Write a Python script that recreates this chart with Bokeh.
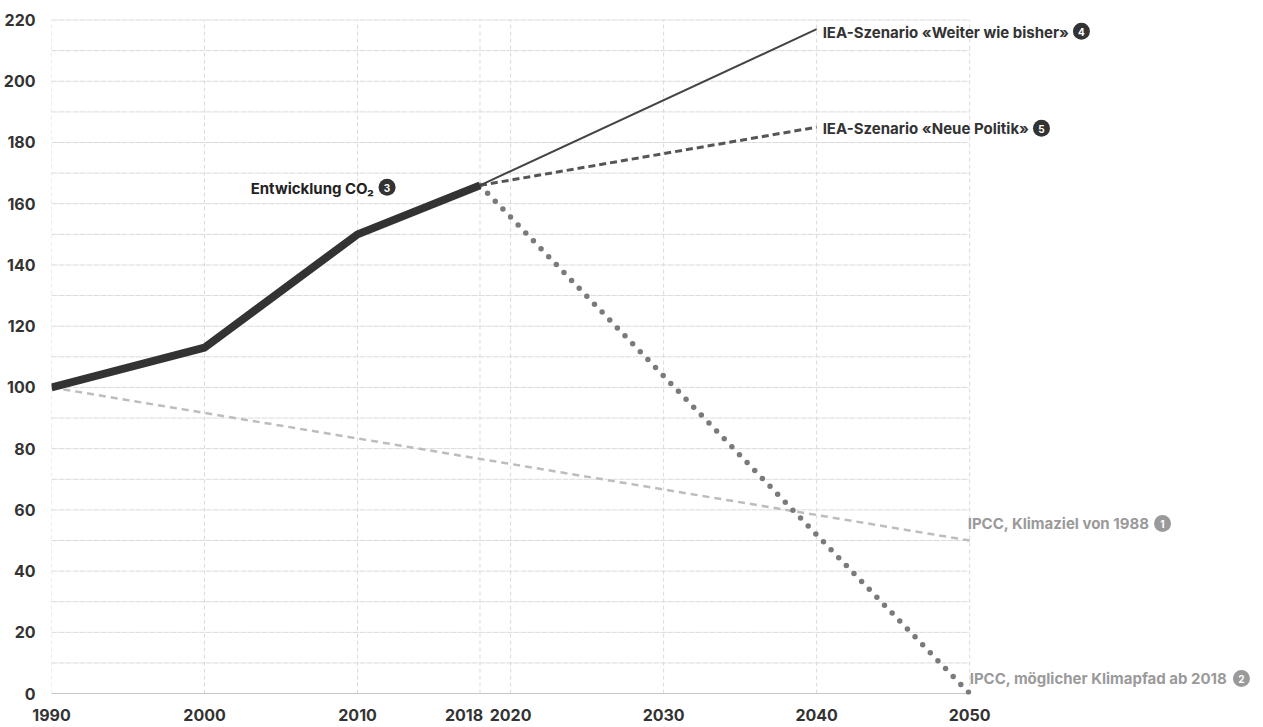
from bokeh.plotting import figure
from bokeh.models import Range1d, FixedTicker
from bokeh.core.properties import value
from bokeh.embed import file_html
from bokeh.resources import INLINE

# ---- data ----
hist_years = [1990, 2000, 2010, 2018]
hist_co2 = [100, 113, 150, 166]

bau_years = [2018, 2040]
bau_vals = [166, 217]

newpol_years = [2018, 2040]
newpol_vals = [166, 185]

ipcc88_years = [1990, 2050]
ipcc88_vals = [100, 50]

ipccpath_years = [2018, 2050]
ipccpath_vals = [166, 0]

x_ticks = [1990, 2000, 2010, 2018, 2020, 2030, 2040, 2050]
y_ticks = list(range(0, 221, 20))
y_grid = list(range(10, 221, 10))

# labels: text, anchor x, anchor y, marker number
dark_labels = ["IEA-Szenario «Weiter wie bisher»", "IEA-Szenario «Neue Politik»"]
dark_x = [2040, 2040]
dark_y = [217, 185]
dark_num = ["4", "5"]

co2_label = ["Entwicklung CO\u2082"]
co2_x = [2018]
co2_y = [166]
co2_num = ["3"]

grey_labels = ["IPCC, Klimaziel von 1988", "IPCC, möglicher Klimapfad ab 2018"]
grey_x = [2050, 2050]
grey_y = [50, 0]
grey_num = ["1", "2"]

FONT = "Inter"
DARK = "#333333"
GREY = "#9a9a9a"

W, H = 1263, 727
BL, BR, BT, BB = 50, 0, 18, 28
X0, X1 = 1990, 2069.2
Y0, Y1 = -0.3, 220.5

p = figure(width=W, height=H, output_backend="svg", toolbar_location=None,
           x_range=Range1d(X0, X1), y_range=Range1d(Y0, Y1),
           min_border_left=BL, min_border_right=BR, min_border_top=BT, min_border_bottom=BB)
p.outline_line_color = None
p.grid.visible = False
p.background_fill_color = "white"
p.border_fill_color = "white"

# approx. pixels per data unit (used only to place the numbered markers beside the texts)
XS = (W - BL - BR) / (X1 - X0)
YS = (H - BT - 32) / (Y1 - Y0)

# grid lines (drawn as segments so that they stop at 2050)
p.segment(x0=[x_ticks[0]] * len(y_grid), x1=[x_ticks[-1]] * len(y_grid), y0=y_grid, y1=y_grid,
          line_color="#dadada", line_width=1, line_dash="6 1")
p.segment(x0=x_ticks, x1=x_ticks, y0=[0] * len(x_ticks), y1=[y_ticks[-1]] * len(x_ticks),
          line_color="#dadada", line_width=1, line_dash="4 3")
p.segment(x0=[x_ticks[0]], x1=[x_ticks[-1]], y0=[0], y1=[0], line_color="#c4c4c4", line_width=1)

# series
p.line(ipcc88_years, ipcc88_vals, line_color="#bdbdbd", line_width=2.5, line_dash="7 5")
p.line(ipccpath_years, ipccpath_vals, line_color="#7a7a7a", line_width=5.5, line_dash="0 11",
       line_cap="round")
p.line(newpol_years, newpol_vals, line_color="#555555", line_width=3, line_dash="7 4")
p.line(bau_years, bau_vals, line_color="#444444", line_width=2)
p.line(hist_years, hist_co2, line_color=DARK, line_width=8, line_join="round")

common = dict(text_font=value(FONT), text_font_style="bold", text_font_size="15px",
              text_baseline="middle")

# labels
p.text(x=dark_x, y=dark_y, text=dark_labels, x_offset=6, y_offset=[3, 1],
       text_color=DARK, text_align="left", **common)
p.text(x=co2_x, y=co2_y, text=co2_label, x_offset=-106, y_offset=3,
       text_color="#222222", text_align="right", **common)
p.text(x=grey_x, y=grey_y, text=grey_labels, x_offset=[-2, 0], y_offset=[-17, -15],
       text_color=GREY, text_align="left", **common)

# numbered markers
def marker(xs, ys, nums, xo, yo, color):
    mx = [x + o / XS for x, o in zip(xs, xo)]
    my = [y - o / YS for y, o in zip(ys, yo)]
    p.scatter(x=mx, y=my, size=17, marker="circle", fill_color=color, line_color=None)
    p.text(x=mx, y=my, text=nums, y_offset=0.5,
           text_font=value(FONT), text_font_style="bold", text_font_size="10px",
           text_color="white", text_align="center", text_baseline="middle")

marker(dark_x, dark_y, dark_num, [265, 225], [2, 1], DARK)
marker(co2_x, co2_y, co2_num, [-93], [2], DARK)
marker(grey_x, grey_y, grey_num, [193, 272], [-17, -15], GREY)

# axes
for ax in (p.xaxis, p.yaxis):
    ax.axis_line_color = None
    ax.major_tick_line_color = None
    ax.minor_tick_line_color = None
    ax.major_label_text_font = FONT
    ax.major_label_text_font_style = "bold"
    ax.major_label_text_font_size = "16px"
    ax.major_label_text_color = DARK
p.xaxis.ticker = FixedTicker(ticks=x_ticks)
p.yaxis.ticker = FixedTicker(ticks=y_ticks)
p.xaxis.major_label_standoff = 4
p.xaxis.major_label_text_line_height = 1.0
p.yaxis.major_label_standoff = 10
p.xaxis.major_label_overrides = {2018: "2018\u2003\u2003"}

open("out.html", "w").write(file_html(p, INLINE))
